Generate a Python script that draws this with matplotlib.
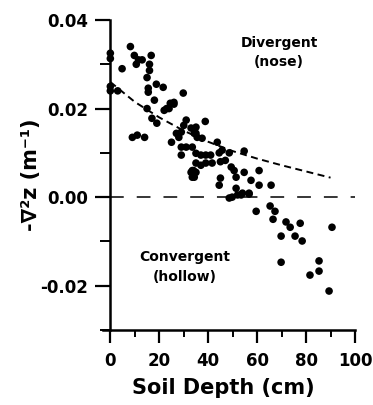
import matplotlib
matplotlib.use("Agg")
import matplotlib.pyplot as plt
from matplotlib.ticker import MultipleLocator

plt.rcParams['font.family'] = ['DejaVu Sans']
plt.rcParams['font.weight'] = 'bold'

# soil depth (cm) and curvature -del^2 z (1/m)
depth = [0, 0, 0, 0, 8.2, 4.8, 9.8, 11.5, 13, 10.6, 16.7, 16, 16, 15, 3,
         15.5, 15.5, 18.8, 21.6, 18, 29.8, 24.5, 26, 23, 15,
         9, 11, 14, 17, 19, 22, 24, 26, 25, 27, 28, 29, 31, 30,
         29, 31, 33.5, 29, 33, 34, 33.5, 35, 35,
         38.8, 33, 34.3, 35.5, 37.5, 43.7, 35, 37, 39, 41, 44.5, 45.7, 48.6,
         54.7, 35, 37, 39, 41.6, 33.5, 35, 34.3, 45, 47, 49.4, 50.6, 51.4,
         45, 44.5, 54.7, 60.8, 57.5, 60.8, 65.7, 51.4, 52, 49.8, 54, 56.7,
         48.6, 53.5, 56.7, 59.6, 65.3, 67.3, 66.5, 71.8, 73.5, 77.6, 69.8,
         75.5, 78.4, 90.6, 69.8, 85.3, 85.3, 81.6, 89.4]
curv = [0.0325, 0.0313, 0.025, 0.024, 0.034, 0.029, 0.032, 0.031, 0.031, 0.030,
        0.032, 0.030, 0.0286, 0.027, 0.024,
        0.0246, 0.0237, 0.0255, 0.0248, 0.0219, 0.0235, 0.0212, 0.0214, 0.020,
        0.020,
        0.0135, 0.014, 0.0135, 0.0178, 0.0167, 0.0196, 0.020, 0.021, 0.0124,
        0.0144, 0.0135, 0.0147, 0.0174, 0.0162,
        0.0113, 0.0113, 0.0113, 0.0095, 0.0056, 0.006, 0.0045, 0.0158, 0.0144,
        0.0171, 0.0156, 0.0144, 0.0135, 0.0133, 0.0124, 0.0099, 0.0095, 0.0095,
        0.0095, 0.010, 0.0106, 0.010,
        0.0104, 0.0077, 0.0072, 0.0077, 0.0077, 0.006, 0.0056, 0.0045, 0.008,
        0.0083, 0.0068, 0.006, 0.0045,
        0.0043, 0.0027, 0.0056, 0.006, 0.0038, 0.0027, 0.0027, 0.002, 0.0005,
        0.0, 0.0009, 0.0009,
        -0.0002, 0.0005, 0.0007, -0.0032, -0.002, -0.0032, -0.005, -0.0056,
        -0.0068, -0.0059, -0.0088,
        -0.0088, -0.0099, -0.0068, -0.0147, -0.0144, -0.0167, -0.0176, -0.0212]

# dashed fit curve, read at 10 cm steps
fit_depth = [0, 10, 20, 30, 40, 50, 60, 70, 80, 90]
fit_curv = [0.026, 0.0215, 0.0180, 0.0150, 0.0125, 0.0104, 0.0087, 0.0072,
            0.0058, 0.0044]

fig = plt.figure(figsize=(3.73, 4.05), dpi=100)
ax = fig.add_axes([103 / 373, 75 / 405, 252 / 373, 310 / 405])

ax.axhline(0, xmin=3 / 103, color='black', lw=1.1, dashes=(9, 8.5))
ax.plot(fit_depth, fit_curv, color='black', lw=1.4, dashes=(3.6, 2.3))
ax.scatter(depth, curv, s=30, color='black', edgecolors='none', zorder=3)

ax.set_xlim(-3, 100)
ax.set_ylim(-0.03, 0.04)
ax.spines['top'].set_visible(False)
ax.spines['right'].set_visible(False)
ax.spines['left'].set_position(('data', 0))
for s in ('left', 'bottom'):
    ax.spines[s].set_linewidth(1.8)

ax.xaxis.set_major_locator(MultipleLocator(20))
ax.xaxis.set_minor_locator(MultipleLocator(10))
ax.set_yticks([-0.02, 0.0, 0.02, 0.04])
ax.set_yticklabels(['-0.02', '0.00', '0.02', '0.04'])
ax.yaxis.set_minor_locator(MultipleLocator(0.01))
ax.tick_params(which='major', direction='out', width=1.6, labelsize=12)
ax.tick_params(which='minor', direction='out', width=1.4)
ax.tick_params(axis='x', which='major', length=9, pad=7)
ax.tick_params(axis='x', which='minor', length=5)
ax.tick_params(axis='y', which='major', length=11, pad=4.8)
ax.tick_params(axis='y', which='minor', length=7)

ax.set_xlabel('Soil Depth (cm)', fontsize=15, fontweight='bold')
ax.xaxis.set_label_coords(0.478, -0.155)
ax.set_ylabel('-∇²z (m⁻¹)', fontsize=15, fontweight='bold')
ax.yaxis.set_label_coords(-0.245, 0.5)

ax.text(69, 0.0327, 'Divergent\n(nose)', ha='center', va='center',
        fontsize=10, fontweight='bold', linespacing=1.5)
ax.text(30.6, -0.0158, 'Convergent\n(hollow)', ha='center', va='center',
        fontsize=10, fontweight='bold', linespacing=1.5)

fig.savefig('out.png', dpi=100)
